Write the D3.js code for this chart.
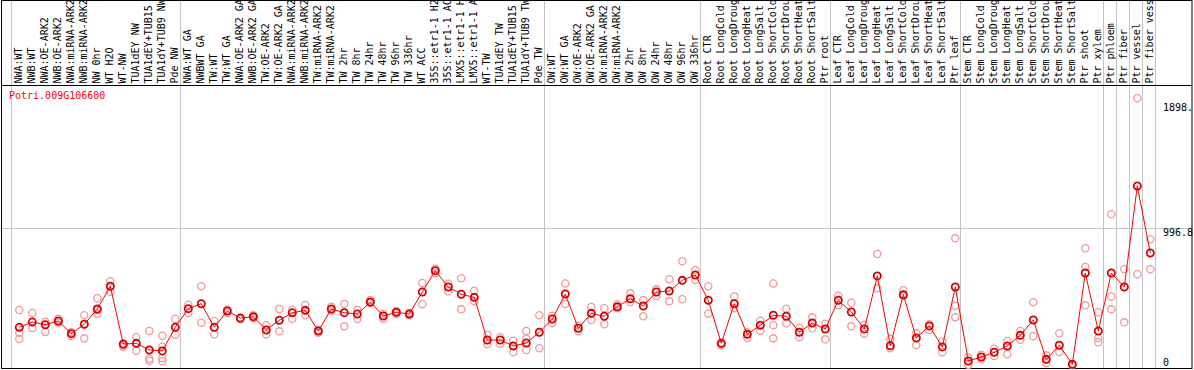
<!doctype html>
<html>
<body>
<style type="text/css">
    html,body{
        margin: 0;
        overflow: hidden;
        background: #fff;
    }
    text {
        font-family: "DejaVu Sans Mono", monospace;
        font-size: 10px;
    }
</style>
<script src="https://d3js.org/d3.v7.min.js" charset="utf-8"></script>
<script type="text/javascript">
var title = "Potri.009G106600";

// sample names as they show in the header (the header only fits 14 characters)
var categories = [
    "NWA:WT", "NWB:WT", "NWA:OE-ARK2", "NWB:OE-ARK2", "NWA:miRNA-ARK2", "NWB:miRNA-ARK2",
    "NW 0hr", "WT H2O", "WT-NW", "TUA1dEY NW", "TUA1dEY+TUB15", "TUA1dY+TUB9 NW", "Pde NW",
    "NWA:WT GA", "NWBWT GA", "TW:WT", "TW:WT GA", "NWA:OE-ARK2 GA", "NWB:OE-ARK2 GA",
    "TW:OE-ARK2", "TW:OE-ARK2 GA", "NWA:miRNA-ARK2", "NWB:miRNA-ARK2", "TW:miRNA-ARK2",
    "TW:miRNA-ARK2", "TW 2hr", "TW 8hr", "TW 24hr", "TW 48hr", "TW 96hr", "TW 336hr",
    "WT ACC", "35S::etr1-1 H2", "35S::etr1-1 AC", "LMX5::etr1-1 H", "LMX5::etr1-1 A",
    "WT-TW", "TUA1dEY TW", "TUA1dEY+TUB15", "TUA1dY+TUB9 TW", "Pde TW",
    "OW:WT", "OW:WT GA", "OW:OE-ARK2", "OW:OE-ARK2 GA", "OW:miRNA-ARK2", "OW:miRNA-ARK2",
    "OW 2hr", "OW 8hr", "OW 24hr", "OW 48hr", "OW 96hr", "OW 336hr",
    "Root CTR", "Root LongCold", "Root LongDroug", "Root LongHeat", "Root LongSalt",
    "Root ShortCold", "Root ShortDrou", "Root ShortHeat", "Root ShortSalt", "Ptr root",
    "Leaf CTR", "Leaf LongCold", "Leaf LongDroug", "Leaf LongHeat", "Leaf LongSalt",
    "Leaf ShortCold", "Leaf ShortDrou", "Leaf ShortHeat", "Leaf ShortSalt", "Ptr leaf",
    "Stem CTR", "Stem LongCold", "Stem LongDroug", "Stem LongHeat", "Stem LongSalt",
    "Stem ShortCold", "Stem ShortDrou", "Stem ShortHeat", "Stem ShortSalt", "Ptr shoot",
    "Ptr xylem", "Ptr phloem", "Ptr fiber", "Ptr vessel", "Ptr fiber vess"
];

// mean expression per sample
var meanValues = [
    280, 318, 299, 326, 234, 302, 413, 577, 159, 164, 116, 109, 280,
    415, 451, 280, 398, 347, 357, 261, 331, 385, 403, 253, 413, 386, 376, 463, 362, 389, 376,
    536, 690, 572, 519, 497, 188, 188, 145, 166, 244,
    340, 521, 273, 381, 360, 429, 487, 434, 536, 543, 620, 659,
    476, 164, 451, 229, 295, 367, 360, 244, 311, 268,
    476, 391, 268, 652, 147, 516, 203, 290, 138, 572,
    36, 65, 99, 145, 222, 333, 48, 150, 12, 673, 253,
    673, 572, 1303, 818
];

// individual replicates per sample
var replicateValues = [
    [405, 241, 195], [384, 275], [321, 246], [342, 313], [246, 217], [367, 200],
    [490, 379, 403], [613, 538], [150, 140], [208, 111], [253, 53, 38], [219, 140, 56, 34], [340, 227],
    [444, 384], [577, 313], [326, 229], [408, 384], [347, 338], [367, 345], [295, 229], [413, 251],
    [408, 342], [442, 367], [261, 241], [429, 400], [449, 287], [405, 340], [478, 454], [376, 342],
    [396, 376], [386, 367], [601, 447], [704, 671], [596, 541], [635, 410], [545, 468], [227, 159],
    [208, 161], [183, 99], [253, 198, 116], [367, 128],
    [364, 309], [598, 449], [292, 251], [427, 333], [418, 302], [447, 418], [526, 463], [478, 360],
    [555, 507], [628, 468], [758, 483], [695, 622],
    [577, 379], [164, 150], [504, 418], [244, 205], [328, 256], [598, 295, 200], [415, 309],
    [275, 208], [352, 273], [306, 193],
    [509, 439], [458, 287], [299, 234], [811, 562], [198, 128], [548, 509], [237, 152], [302, 261],
    [176, 99], [924, 436, 352],
    [63, 7], [82, 48], [125, 72], [181, 85], [253, 190], [461, 215], [77, 22], [237, 101], [12, 5],
    [852, 717, 439], [389, 203, 172],
    [1098, 504, 410], [702, 316], [1938, 664], [917, 700]
];

var tickValues = [0, 996.8, 1898];
var tickLabels = ["0", "996.8", "1898."];
var gridValues = [996.8];

// index where each group of samples starts (last one closes the data area)
var groupStarts = [0, 13, 41, 53, 63, 73, 84, 85, 86, 87, 88];

(function(){
    var w = 1194,
        h = 370,
        labelBottom = 83.5,
        headerLine = 85.5,
        plotBottom = 368.5;

    var svg = d3.select("body").append("svg")
        .attr("width", w)
        .attr("height", h);

    var idx = d3.range(categories.length);

    var x = d3.scaleBand()
        .domain(idx)
        .range([12.8, 12.8 + 13 * categories.length])
        .padding(0);
    var bw = x.bandwidth();
    var cx = function(i){ return x(i) + bw / 2; };

    var y = d3.scaleLinear()
        .domain([0, 996.8])
        .range([366, 228.3]);

    // group separators
    var sepX = function(d){
        return Math.round((d < categories.length ? x(d) : x(d - 1) + bw) - 2) + 0.5;
    };
    svg.append("g").selectAll("line")
        .data(groupStarts)
        .enter().append("line")
        .attr("x1", sepX)
        .attr("x2", sepX)
        .attr("y1", 0)
        .attr("y2", plotBottom)
        .attr("stroke", "#c4c4c4")
        .attr("stroke-width", 1);

    // horizontal grid
    svg.append("g").selectAll("line")
        .data(gridValues)
        .enter().append("line")
        .attr("x1", 1)
        .attr("x2", w - 2)
        .attr("y1", function(d){ return Math.round(y(d)) + 0.5; })
        .attr("y2", function(d){ return Math.round(y(d)) + 0.5; })
        .attr("stroke", "#c4c4c4");

    // frame
    svg.append("rect")
        .attr("x", 1.5).attr("y", 0.5)
        .attr("width", w - 3.5).attr("height", plotBottom - 0.5)
        .attr("fill", "none")
        .attr("stroke", "#000");
    svg.append("line")
        .attr("x1", 1).attr("x2", w - 2)
        .attr("y1", headerLine).attr("y2", headerLine)
        .attr("stroke", "#000");

    // sample labels, rotated
    svg.append("g").selectAll("text")
        .data(idx)
        .enter().append("text")
        .attr("transform", function(i){ return "translate(" + (cx(i) + 2.5) + "," + labelBottom + ") rotate(-90)"; })
        .attr("fill", "#000")
        .text(function(i){ return categories[i]; });

    // right axis labels
    svg.append("g").selectAll("text")
        .data(tickValues)
        .enter().append("text")
        .attr("x", 1163)
        .attr("y", function(d){ return d === 0 ? y(d) - 0.5 : y(d) + 7.5; })
        .attr("fill", "#000")
        .text(function(d, i){ return tickLabels[i]; });

    // title
    svg.append("text")
        .attr("x", 9)
        .attr("y", 99)
        .attr("fill", "#ff0000")
        .text(title);

    // replicates
    var reps = [];
    replicateValues.forEach(function(arr, i){
        arr.forEach(function(v){ reps.push({i: i, v: v}); });
    });
    svg.append("g").selectAll("circle")
        .data(reps)
        .enter().append("circle")
        .attr("cx", function(d){ return cx(d.i); })
        .attr("cy", function(d){ return y(d.v); })
        .attr("r", 3.6)
        .attr("fill", "none")
        .attr("stroke", "#f09a9a")
        .attr("stroke-width", 1.3);

    // mean line
    var line = d3.line()
        .x(function(d, i){ return cx(i); })
        .y(function(d){ return y(d); });
    svg.append("path")
        .datum(meanValues)
        .attr("d", line)
        .attr("fill", "none")
        .attr("stroke", "#ff0000")
        .attr("stroke-width", 1);

    svg.append("g").selectAll("circle")
        .data(meanValues)
        .enter().append("circle")
        .attr("cx", function(d, i){ return cx(i); })
        .attr("cy", function(d){ return y(d); })
        .attr("r", 3.6)
        .attr("fill", "none")
        .attr("stroke", "#d80000")
        .attr("stroke-width", 1.8);
})();
</script>
</body>
</html>
